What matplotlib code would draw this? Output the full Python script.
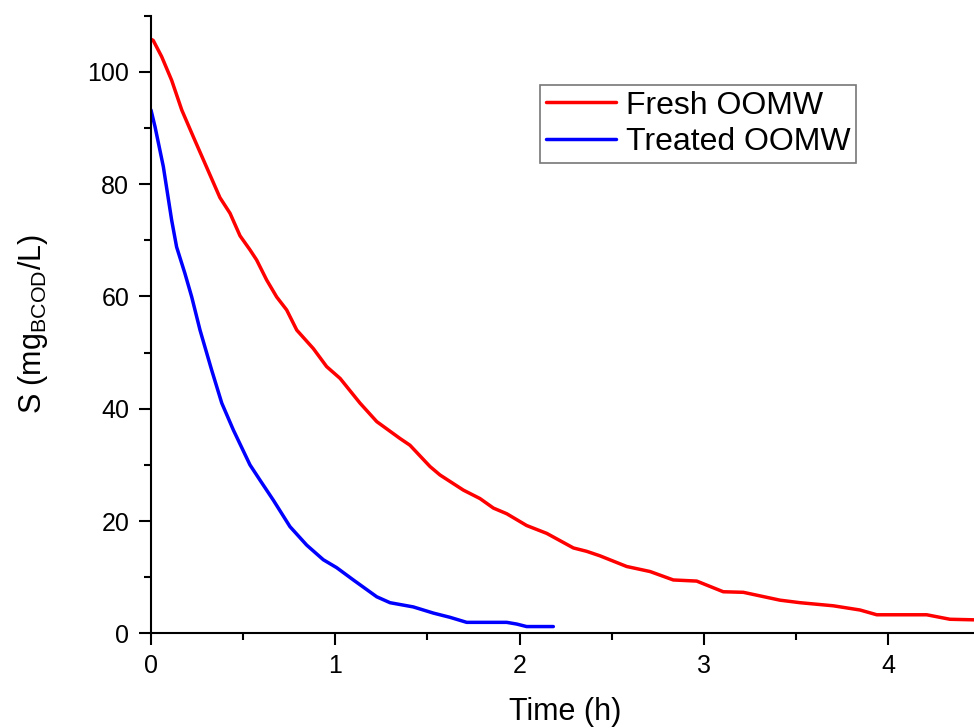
import matplotlib
matplotlib.use("Agg")
import matplotlib.pyplot as plt
from matplotlib.ticker import MultipleLocator

plt.rcParams['font.family'] = ['Liberation Sans', 'DejaVu Sans']
plt.rcParams['mathtext.fontset'] = 'custom'
plt.rcParams['mathtext.rm'] = 'Liberation Sans'
plt.rcParams['mathtext.it'] = 'Liberation Sans:italic'

# Fresh OOMW
fresh_t = [0.0, 0.012, 0.058, 0.112, 0.167, 0.230, 0.302, 0.374, 0.429, 0.483, 0.537,
           0.573, 0.628, 0.682, 0.736, 0.791, 0.881, 0.953, 1.026, 1.134, 1.225, 1.351,
           1.405, 1.514, 1.568, 1.695, 1.785, 1.858, 1.930, 2.038, 2.147, 2.292, 2.364,
           2.436, 2.581, 2.708, 2.834, 2.961, 3.105, 3.214, 3.413, 3.522, 3.702, 3.847,
           3.938, 4.209, 4.335, 4.465]
fresh_s = [105.8, 105.6, 102.7, 98.5, 93.2, 88.4, 83.0, 77.6, 74.8, 70.8, 68.3,
           66.5, 62.9, 59.9, 57.6, 54.0, 50.7, 47.5, 45.4, 41.0, 37.7, 34.7,
           33.5, 29.7, 28.2, 25.5, 24.0, 22.3, 21.3, 19.2, 17.8, 15.2, 14.6,
           13.8, 11.9, 11.0, 9.5, 9.3, 7.4, 7.3, 5.9, 5.45, 4.9, 4.15,
           3.3, 3.3, 2.5, 2.4]

# Treated OOMW
treated_t = [0.0, 0.022, 0.067, 0.112, 0.139, 0.184, 0.221, 0.266, 0.329, 0.384, 0.447,
             0.537, 0.591, 0.664, 0.754, 0.845, 0.935, 1.007, 1.098, 1.225, 1.297,
             1.423, 1.532, 1.622, 1.713, 1.930, 1.984, 2.038, 2.183]
treated_s = [93.2, 90.2, 83.1, 73.6, 68.8, 64.1, 59.9, 54.0, 46.9, 41.0, 36.2,
             30.0, 27.3, 23.7, 19.0, 15.7, 13.1, 11.7, 9.5, 6.5, 5.45,
             4.7, 3.6, 2.85, 1.95, 1.95, 1.65, 1.2, 1.2]

series_labels = ['Fresh OOMW', 'Treated OOMW']
xlabel = 'Time (h)'
ylabel = 'S (mg$_{\\mathrm{BCOD}}$/L)'

fig = plt.figure(figsize=(9.74, 7.28), dpi=100)
ax = fig.add_axes([151/974, (728-633.3)/728, 4.5*184.3/974, 617.6/728])

ax.plot(fresh_t, fresh_s, color='#ff0000', lw=2.5, label=series_labels[0],
        solid_joinstyle='round', solid_capstyle='round')
ax.plot(treated_t, treated_s, color='#0000ff', lw=2.5, label=series_labels[1],
        solid_joinstyle='round', solid_capstyle='round')

ax.set_xlim(0, 4.5)
ax.set_ylim(0, 110)
ax.xaxis.set_major_locator(MultipleLocator(1))
ax.xaxis.set_minor_locator(MultipleLocator(0.5))
ax.yaxis.set_major_locator(MultipleLocator(20))
ax.yaxis.set_minor_locator(MultipleLocator(10))

for s in ['top', 'right']:
    ax.spines[s].set_visible(False)
for s in ['left', 'bottom']:
    ax.spines[s].set_linewidth(1.5)

ax.tick_params(which='major', direction='out', length=8.6, width=1.5, labelsize=18, pad=6)
ax.tick_params(which='minor', direction='out', length=5, width=1.5)
ax.tick_params(axis='y', which='major', pad=7)

ax.set_xlabel(xlabel, fontsize=22, labelpad=14)
ax.set_ylabel(ylabel, fontsize=22, labelpad=27)

leg = ax.legend(loc='upper right', bbox_to_anchor=(0.857*823/829.4, 0.888),
                borderaxespad=0, fontsize=23, frameon=True, fancybox=False,
                handlelength=2.2, handletextpad=0.3, borderpad=0.18, labelspacing=0.2)
leg.get_frame().set_edgecolor('#555555')
leg.get_frame().set_linewidth(1.2)

fig.savefig('out.png', dpi=100)
